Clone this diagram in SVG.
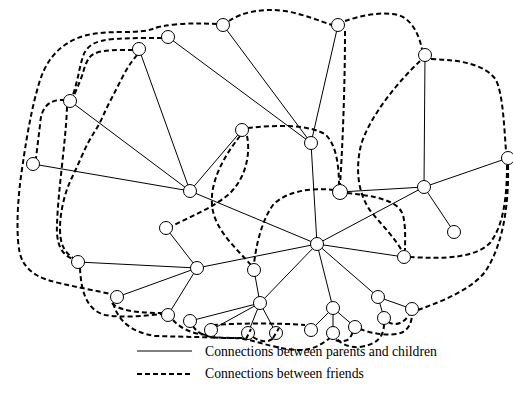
<svg xmlns="http://www.w3.org/2000/svg" width="513" height="418" viewBox="0 0 513 418">
<style>
.tree{stroke:#000;stroke-width:1;fill:none}
.friend{stroke:#000;stroke-width:2;fill:none;stroke-dasharray:5 3}
.node circle{fill:#fff;stroke:#000;stroke-width:1}
.lbl{font-family:"Liberation Serif","Times New Roman",serif;font-size:13.7px;fill:#000}
</style>
<rect width="513" height="418" fill="#fff"/>
<g id="connectors">
  <g id="tree-links">
    <line class="tree" x1="168" y1="37" x2="311" y2="143"/>
    <line class="tree" x1="223" y1="25" x2="311" y2="143"/>
    <line class="tree" x1="338" y1="25" x2="311" y2="143"/>
    <line class="tree" x1="311" y1="143" x2="317" y2="244"/>
    <line class="tree" x1="139" y1="49" x2="190" y2="191"/>
    <line class="tree" x1="70" y1="101" x2="190" y2="191"/>
    <line class="tree" x1="33" y1="164" x2="190" y2="191"/>
    <line class="tree" x1="242" y1="130" x2="190" y2="191"/>
    <line class="tree" x1="190" y1="191" x2="317" y2="244"/>
    <line class="tree" x1="425" y1="55" x2="424" y2="187"/>
    <line class="tree" x1="424" y1="187" x2="508" y2="158"/>
    <line class="tree" x1="424" y1="187" x2="340" y2="192"/>
    <line class="tree" x1="424" y1="187" x2="454" y2="232"/>
    <line class="tree" x1="424" y1="187" x2="317" y2="244"/>
    <line class="tree" x1="317" y1="244" x2="404" y2="257"/>
    <line class="tree" x1="317" y1="244" x2="197" y2="268"/>
    <line class="tree" x1="317" y1="244" x2="260" y2="303"/>
    <line class="tree" x1="317" y1="244" x2="333" y2="308"/>
    <line class="tree" x1="317" y1="244" x2="378" y2="297"/>
    <line class="tree" x1="197" y1="268" x2="78" y2="262"/>
    <line class="tree" x1="197" y1="268" x2="166" y2="228"/>
    <line class="tree" x1="197" y1="268" x2="117" y2="297"/>
    <line class="tree" x1="197" y1="268" x2="168" y2="315"/>
    <line class="tree" x1="254" y1="270" x2="260" y2="303"/>
    <line class="tree" x1="260" y1="303" x2="190" y2="321"/>
    <line class="tree" x1="260" y1="303" x2="211" y2="330"/>
    <line class="tree" x1="260" y1="303" x2="248" y2="333"/>
    <line class="tree" x1="260" y1="303" x2="276" y2="333"/>
    <line class="tree" x1="333" y1="308" x2="311" y2="330"/>
    <line class="tree" x1="333" y1="308" x2="333" y2="333"/>
    <line class="tree" x1="333" y1="308" x2="355" y2="327"/>
    <line class="tree" x1="378" y1="297" x2="384" y2="318"/>
    <line class="tree" x1="378" y1="297" x2="412" y2="309"/>
  </g>
  <g id="friend-links">
    <path class="friend" d="M217,24 L203.5,23.5 Q190,23 175,24.5 Q160,26 152.5,29 Q145,32 122.5,32 Q100,32 87.5,35 Q75,38 65.5,44.5 Q56,51 49.5,60.5 Q43,70 39,83.5 Q35,97 32,111 Q29,125 26.5,140 Q24,155 21.5,172.5 Q19,190 18,207.5 Q17,225 18,240 Q19,255 23.5,262.5 Q28,270 36.5,275 Q45,280 61,283.5 Q77,287 94,290.5 L111,294"/>
    <path class="friend" d="M162,38 L146,38 Q130,38 115,39 Q100,40 93,44 Q86,48 83.5,55 Q81,62 79,72 Q77,82 73,95"/>
    <path class="friend" d="M133,50 L121.5,50 Q110,50 101.5,51.5 Q93,53 89.5,57.5 Q86,62 83.5,71 Q81,80 74,95"/>
    <path class="friend" d="M137,55 L132,61.5 Q127,68 122,78 Q117,88 112,97.5 Q107,107 103,116 Q99,125 93.5,133.5 Q88,142 82.5,154.5 Q77,167 71.5,178.5 Q66,190 63,203.5 Q60,217 60,228.5 Q60,240 63,246.5 Q66,253 73,258"/>
    <path class="friend" d="M67,107 C66,140 58,190 57,225 C56,245 62,255 73,259"/>
    <path class="friend" d="M65,100 C48,99 41,108 40,125 L36,158"/>
    <path class="friend" d="M80,268 C81,290 86,310 105,315 C120,318 145,316 162,314"/>
    <path class="friend" d="M229,21 C242,12 262,8 285,11 C303,14 320,21 332,25"/>
    <path class="friend" d="M345,21 C360,16 380,11 398,15 C412,19 419,35 422,49"/>
    <path class="friend" d="M345,31 C345,80 343,140 340,185"/>
    <path class="friend" d="M420,61 C400,80 370,115 361,145 C355,170 358,195 372,213 C385,228 396,240 402,251"/>
    <path class="friend" d="M431,59 C460,60 485,64 496,80 C503,95 504,125 506,151"/>
    <path class="friend" d="M507,165 C507,195 504,225 490,243 C475,258 445,259 410,257"/>
    <path class="friend" d="M508,165 C509,205 503,245 485,272 C470,290 445,300 418,310"/>
    <path class="friend" d="M247,136 C251,155 245,180 228,195 C212,208 190,217 172,226"/>
    <path class="friend" d="M240,136 C225,155 210,180 212,205 C214,230 238,250 251,265"/>
    <path class="friend" d="M248,128 C275,125 310,124 326,135 C336,145 339,165 339,185"/>
    <path class="friend" d="M334,190 C310,187 285,192 273,205 C262,220 256,245 254,264"/>
    <path class="friend" d="M347,193 C375,196 398,200 403,215 C406,228 405,240 405,250"/>
    <path class="friend" d="M112,303 C118,310 135,313 162,313"/>
    <path class="friend" d="M113,303 C118,320 130,332 155,336 L235,338 C255,339 275,350 300,350 C315,350 325,342 331,337"/>
    <path class="friend" d="M173,320 C180,328 192,334 207,335"/>
    <path class="friend" d="M193,326 C197,333 205,337 220,338 L240,338 C245,338 248,336 250,333"/>
    <path class="friend" d="M213,325 C240,323 280,323 305,325"/>
    <path class="friend" d="M253,337 Q265,345 274,338"/>
    <path class="friend" d="M329,336 C335,342 345,343 350,338 L353,332"/>
    <path class="friend" d="M360,329 C372,334 392,337 403,332 C410,328 412,320 412,314"/>
    <path class="friend" d="M388,322 C395,326 403,324 409,315"/>
    <path class="friend" d="M384,324 C384,338 375,345 360,347 C348,348 340,343 336,338"/>
  </g>
</g>
<g id="n-A" class="node"><circle cx="168" cy="37" r="6.5"/></g>
<g id="n-B" class="node"><circle cx="139" cy="49" r="6.5"/></g>
<g id="n-D" class="node"><circle cx="223" cy="25" r="6.5"/></g>
<g id="n-E" class="node"><circle cx="338" cy="25" r="6.5"/></g>
<g id="n-F" class="node"><circle cx="425" cy="55" r="6.5"/></g>
<g id="n-C" class="node"><circle cx="70" cy="101" r="6.5"/></g>
<g id="n-G" class="node"><circle cx="33" cy="164" r="6.5"/></g>
<g id="n-H" class="node"><circle cx="242" cy="130" r="6.5"/></g>
<g id="n-I" class="node"><circle cx="311" cy="143" r="6.5"/></g>
<g id="n-J" class="node"><circle cx="190" cy="191" r="6.5"/></g>
<g id="n-K" class="node"><circle cx="340" cy="192" r="7.5"/></g>
<g id="n-L" class="node"><circle cx="424" cy="187" r="6.5"/></g>
<g id="n-M" class="node"><circle cx="508" cy="158" r="6.5"/></g>
<g id="n-N" class="node"><circle cx="166" cy="228" r="6.5"/></g>
<g id="n-O" class="node"><circle cx="317" cy="244" r="6.5"/></g>
<g id="n-P" class="node"><circle cx="454" cy="232" r="6.5"/></g>
<g id="n-Q" class="node"><circle cx="404" cy="257" r="6.5"/></g>
<g id="n-R" class="node"><circle cx="78" cy="262" r="6.5"/></g>
<g id="n-S" class="node"><circle cx="197" cy="268" r="6.5"/></g>
<g id="n-T" class="node"><circle cx="254" cy="270" r="6.5"/></g>
<g id="n-U" class="node"><circle cx="117" cy="297" r="6.5"/></g>
<g id="n-V" class="node"><circle cx="260" cy="303" r="6.5"/></g>
<g id="n-W" class="node"><circle cx="168" cy="315" r="6.5"/></g>
<g id="n-X" class="node"><circle cx="190" cy="321" r="6.5"/></g>
<g id="n-Y" class="node"><circle cx="211" cy="330" r="6.5"/></g>
<g id="n-Z" class="node"><circle cx="248" cy="333" r="6.5"/></g>
<g id="n-AA" class="node"><circle cx="276" cy="333" r="6.5"/></g>
<g id="n-AB" class="node"><circle cx="311" cy="330" r="6.5"/></g>
<g id="n-AC" class="node"><circle cx="333" cy="308" r="6.5"/></g>
<g id="n-AD" class="node"><circle cx="333" cy="333" r="6.5"/></g>
<g id="n-AE" class="node"><circle cx="355" cy="327" r="6.5"/></g>
<g id="n-AF" class="node"><circle cx="378" cy="297" r="6.5"/></g>
<g id="n-AG" class="node"><circle cx="384" cy="318" r="6.5"/></g>
<g id="n-AH" class="node"><circle cx="412" cy="309" r="6.5"/></g>
<g id="connector-ends">
  <path class="friend" d="M246,339 L251,329"/>
  <path class="friend" d="M273,338 L279,328"/>
</g>
<g id="legend">
  <line class="tree" x1="137" y1="351" x2="192" y2="351"/>
  <text class="lbl" x="205" y="355.5">Connections between parents and children</text>
  <line class="friend" x1="137" y1="374" x2="192" y2="374"/>
  <text class="lbl" x="205" y="377.5">Connections between friends</text>
</g>
</svg>
